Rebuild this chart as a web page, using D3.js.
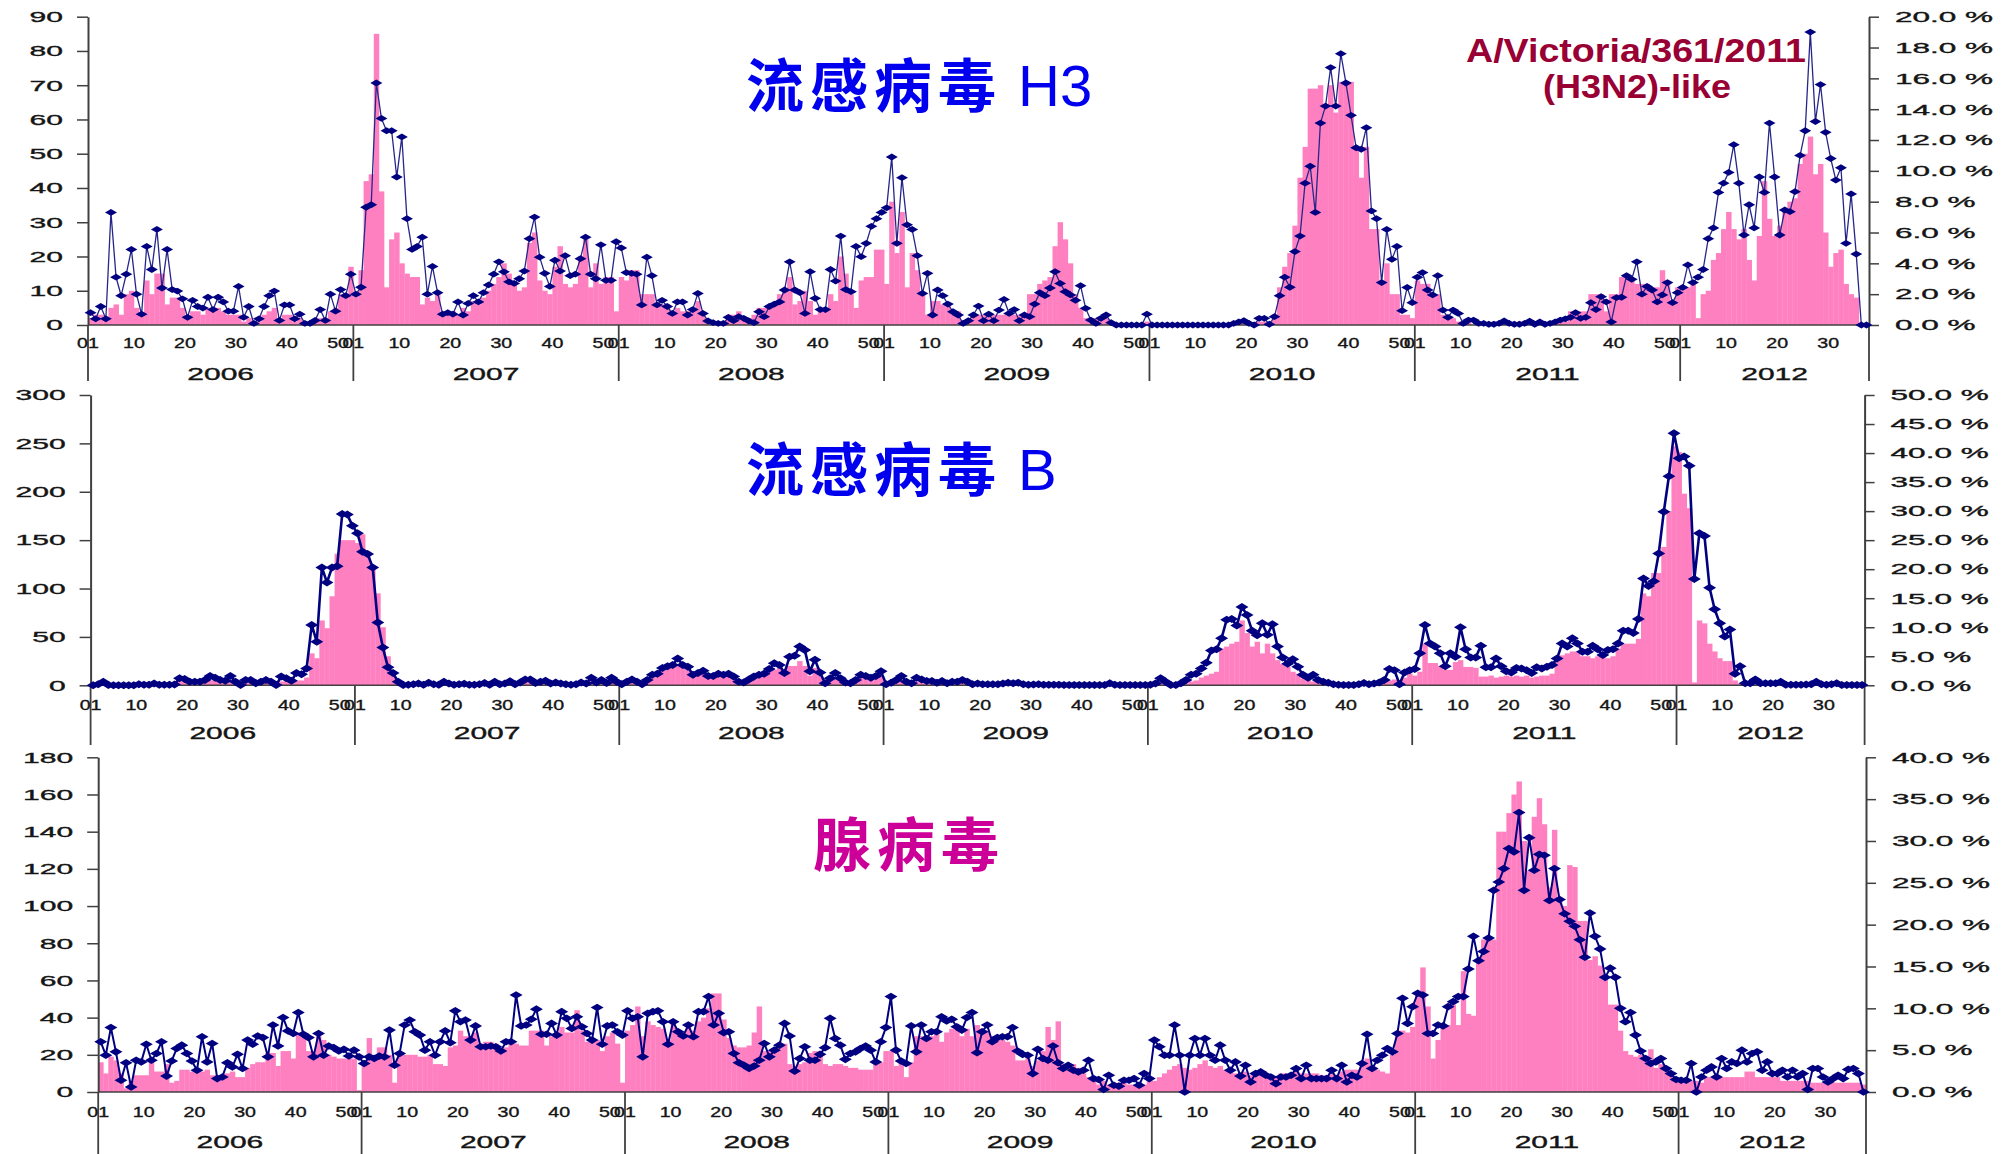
<!DOCTYPE html>
<html>
<head>
<meta charset="utf-8">
<script src="https://cdn.jsdelivr.net/npm/d3@7"></script>
<style>
  html, body { margin: 0; padding: 0; background: #fff; }
  svg { display: block; }
</style>
</head>
<body>
<svg id="chart" width="2011" height="1154"></svg>
<script>
// ---- categories ----
const years = ["2006", "2007", "2008", "2009", "2010", "2011", "2012"];
const weeksPerYear = [52, 52, 52, 52, 52, 52, 37];
const weekTickLabels = ["01", "10", "20", "30", "40", "50"];

// ---- influenza H3: weekly positive isolates (left axis) ----
const h3Count = [
  2,3,3,2,5,6,3,9,10,5,3,13,9,15,15,6,8,8,5,2,4,4,3,5,4,5,4,3,3,3,1,2,0,1,3,4,5,1,3,3,1,2,0,0,1,2,1,4,5,9,9,17,
  9,16,42,44,85,39,11,25,27,18,15,14,14,6,8,7,9,3,3,4,3,5,4,7,6,8,10,12,14,18,15,12,10,11,24,27,13,10,9,17,23,12,11,12,20,25,11,18,12,14,14,4,
  14,13,16,16,9,9,9,6,6,6,4,5,4,4,4,7,3,1,1,1,1,3,3,4,2,2,3,5,5,5,6,9,10,14,6,7,10,7,3,4,4,9,7,20,15,9,5,13,14,14,22,22,
  12,36,21,33,11,21,16,9,3,7,7,6,6,4,4,1,1,3,3,3,3,3,3,3,3,3,3,3,9,9,12,13,14,23,30,25,18,9,5,2,2,2,2,2,0,0,0,0,0,0,0,1,
  0,0,0,0,0,0,0,0,0,0,0,0,0,0,0,0,0,1,1,0,0,1,1,0,3,11,17,21,29,43,52,69,69,70,64,70,62,71,71,71,52,43,52,28,28,12,18,9,9,3,3,2,
  13,12,12,9,9,3,2,2,1,1,1,0,1,0,0,1,0,1,0,0,1,0,1,0,1,0,0,1,1,1,4,4,4,4,9,9,9,4,9,9,14,14,13,12,12,12,11,11,16,12,7,11,
  11,11,12,2,9,10,19,21,28,33,28,25,28,19,13,26,42,31,26,29,34,36,37,47,50,55,44,47,27,17,21,22,12,9,8,0,0
];
// ---- influenza H3: weekly positive rate, % (right axis) ----
const h3Pct = [
  0.8,0.4,1.2,0.4,7.3,3.1,1.9,3.3,4.9,2.0,0.7,5.1,3.6,6.2,2.4,4.9,2.3,2.2,1.7,0.5,1.6,1.2,1.1,1.8,1.0,1.8,1.5,0.9,0.9,2.5,0.5,1.2,0.1,0.4,1.2,1.9,2.2,0.3,1.3,1.3,0.4,0.7,0.1,0.1,0.3,1.0,0.3,2.0,0.9,2.3,1.9,3.3,
  2.0,2.45,7.64,7.8,15.7,13.4,12.6,12.6,9.6,12.2,6.9,4.9,5.1,5.7,2.0,3.8,2.1,0.7,0.8,0.7,1.5,0.65,1.4,1.9,1.5,2.1,2.6,3.3,4.1,3.45,2.8,2.7,3.0,3.5,5.6,7.0,4.4,3.35,2.5,4.2,3.5,4.5,3.2,3.3,4.3,5.7,3.3,3.0,5.2,2.9,2.9,5.4,
  5.0,3.4,3.35,3.3,1.3,4.4,3.2,1.3,1.6,1.2,0.75,1.5,1.5,0.65,1.0,2.05,0.75,0.26,0.15,0.1,0.1,0.5,0.28,0.54,0.43,0.26,0.15,0.86,0.54,1.2,1.36,1.5,2.27,4.1,2.27,2.1,0.75,3.46,1.73,1.0,1.0,3.6,2.85,5.77,2.3,2.16,5.1,4.43,5.3,6.4,6.9,7.3,
  7.6,10.9,5.3,9.56,6.5,6.2,4.5,2.05,3.35,0.65,2.27,1.9,1.36,0.86,0.65,0.1,0.28,0.65,1.23,0.28,0.7,0.28,0.97,1.66,0.75,1.0,0.28,0.65,0.54,1.36,2.1,1.9,2.4,3.46,2.7,2.16,1.95,1.6,2.55,1.08,0.32,0.1,0.43,0.65,0.15,0,0,0,0,0,0,0.7,
  0,0,0,0,0,0,0,0,0,0,0,0,0,0,0,0,0.1,0.2,0.28,0.1,0,0.43,0.43,0.05,0.54,1.9,3.1,2.45,4.76,5.77,9.2,10.3,7.3,13.1,14.2,16.7,14.2,17.6,15.7,13.6,11.5,11.4,12.8,7.4,6.9,2.75,6.2,4.26,5.1,0.93,2.44,1.45,
  3.1,3.4,2.27,1.95,3.2,0.97,0.5,0.97,0.75,0.1,0.32,0.32,0.1,0.1,0.05,0.05,0.1,0.26,0.1,0.05,0.05,0.1,0.25,0.05,0.2,0.05,0.1,0.2,0.32,0.4,0.5,0.8,0.43,0.5,1.45,1.0,1.84,1.5,0.2,1.77,1.8,3.2,2.96,4.1,2.0,2.5,2.27,1.5,1.95,2.75,1.45,2.1,
  2.44,3.9,2.75,3.1,3.6,5.6,6.3,8.6,9.2,9.9,11.7,9.2,5.84,7.8,6.3,9.6,8.6,13.1,9.6,5.84,7.46,7.35,8.65,11.0,12.6,19.0,13.2,15.6,12.5,10.8,9.4,10.2,5.3,8.5,4.6,0,0
];

// ---- influenza B ----
const bCount = [
  0,1,2,0,0,0,0,0,0,1,0,0,1,0,0,0,1,4,4,3,3,3,4,5,5,4,4,5,3,1,3,3,2,3,4,3,1,4,4,3,5,5,8,33,28,67,59,92,136,150,150,150,
  147,156,135,120,95,60,30,14,5,2,1,1,2,1,2,1,1,3,2,1,1,2,1,1,1,2,1,3,1,2,3,1,2,4,5,2,3,4,2,3,2,1,1,1,3,2,6,3,5,3,6,3,
  1,2,3,2,1,4,8,10,15,18,20,22,18,16,10,11,12,9,9,10,9,10,7,3,3,6,12,12,12,14,16,18,10,20,20,25,20,10,18,10,2,5,8,5,2,2,4,8,7,6,7,9,
  2,3,4,5,2,2,4,3,2,2,2,2,1,2,2,3,2,1,1,1,1,1,1,1,2,1,2,1,0,1,1,0,0,0,0,0,0,0,0,0,0,0,0,0,1,0,0,0,0,0,0,0,
  0,1,2,1,0,0,1,2,4,5,8,10,12,14,38,40,43,45,67,54,40,45,33,43,33,26,22,19,14,12,7,6,4,3,2,1,1,0,0,0,0,1,1,1,1,1,3,5,6,1,8,12,
  10,14,43,23,23,20,16,16,24,26,19,19,18,9,9,10,8,9,10,9,10,9,10,8,9,10,10,12,28,31,33,35,35,30,30,28,30,30,28,30,38,43,43,43,48,95,92,116,116,143,180,247,
  241,198,183,3,67,64,43,35,28,25,25,5,2,1,1,2,1,1,1,1,2,0,0,0,0,1,1,2,1,0,1,1,0,0,0,0,0
];
const bPct = [
  0,0.2,0.6,0.05,0,0,0,0,0,0.2,0.1,0.1,0.3,0.1,0.1,0.1,0.15,1.2,1.1,0.6,0.6,0.6,0.9,1.6,1.3,0.9,0.8,1.6,0.6,0.05,0.9,0.9,0.35,0.6,0.9,0.6,0.05,1.5,1.2,0.8,2.1,1.9,2.9,10.4,7.5,20.3,17.7,20.3,20.5,29.5,29.4,27.5,
  26.2,23.0,22.6,20.3,10.8,6.5,3.1,2.1,0.6,0.05,0.1,0.2,0.3,0.1,0.45,0.2,0.1,0.6,0.3,0.1,0.2,0.25,0.1,0.1,0.2,0.4,0.1,0.6,0.2,0.3,0.7,0.2,0.5,1.0,1.0,0.4,0.6,0.8,0.3,0.5,0.3,0.2,0.1,0.2,0.5,0.3,1.3,0.5,0.9,0.4,1.3,0.6,
  0.2,0.6,1.0,0.6,0.2,0.9,1.8,2.0,3.0,3.3,3.5,4.6,3.5,3.2,1.8,2.1,2.5,1.6,1.6,2.0,1.8,2.0,1.5,0.6,0.5,1.0,1.5,1.8,2.0,2.8,3.8,3.5,2.1,4.9,5.1,6.7,6.1,2.4,4.4,2.2,0.35,1.2,2.1,1.2,0.5,0.35,0.9,1.8,1.6,1.3,1.6,2.4,
  0.2,0.45,0.9,1.6,0.6,0.35,1.3,1.0,0.75,0.75,0.45,0.75,0.35,0.6,0.6,0.9,0.6,0.2,0.3,0.2,0.2,0.2,0.2,0.3,0.45,0.35,0.45,0.2,0.1,0.15,0.2,0.1,0.1,0.1,0.1,0.05,0.05,0.05,0.05,0.05,0.05,0.05,0.05,0.05,0.35,0.1,0.05,0.05,0.05,0.05,0.05,0.05,
  0.1,0.3,1.2,0.6,0.05,0.05,0.35,0.9,1.8,2.0,2.9,3.9,6.0,6.2,8.1,11.3,11.4,10.3,13.5,12.1,9.4,8.6,10.7,8.7,10.5,6.7,4.8,3.7,4.5,3.2,1.8,1.3,1.8,0.9,0.6,0.45,0.2,0.1,0.05,0.05,0.05,0.2,0.4,0.2,0.3,0.5,0.9,2.8,2.6,0.2,2.2,2.6,
  2.8,5.5,10.4,7.2,6.7,5.5,3.3,5.5,4.9,10.0,6.2,4.8,4.8,6.8,3.1,3.1,4.6,3.3,2.4,2.2,3.0,2.9,2.6,2.1,3.1,2.9,3.2,3.5,4.6,7.2,6.7,8.1,7.2,5.8,5.8,6.8,6.2,5.2,6.1,6.2,7.2,9.4,9.4,9.0,11.4,18.4,17.1,17.9,22.7,29.9,36.0,43.4,
  39.1,39.4,37.8,18.3,26.2,25.7,16.8,13.1,10.7,8.4,9.6,2.0,3.3,0.35,0.35,1.0,0.35,0.35,0.35,0.35,0.6,0.1,0.1,0.1,0.1,0.15,0.2,0.6,0.2,0.1,0.2,0.35,0.05,0.05,0.05,0.05,0.05
];

// ---- adenovirus ----
const adenoCount = [
  16,10,19,17,10,2,6,9,9,9,16,11,11,15,5,6,12,12,11,11,11,12,9,9,9,10,11,8,8,13,15,16,16,21,21,14,22,22,18,32,30,22,22,30,28,20,19,18,18,18,18,1,
  15,29,20,24,24,20,5,20,20,20,20,19,19,20,15,15,14,24,25,33,30,30,32,26,27,27,26,22,24,26,26,25,25,33,33,33,25,30,32,35,32,32,44,33,27,27,28,22,30,32,26,5,
  33,36,46,30,38,36,35,34,28,38,32,30,36,33,38,40,45,53,53,39,29,25,24,24,25,32,46,22,22,23,26,26,15,14,15,16,21,22,20,15,14,15,15,14,13,13,12,12,12,16,16,22,
  22,14,16,8,16,30,30,30,30,32,27,32,34,35,30,34,30,36,34,33,30,28,28,27,25,17,17,18,14,17,22,35,28,38,15,15,15,13,10,8,6,4,6,4,4,5,5,4,4,5,4,6,
  6,8,10,12,14,15,13,12,13,15,17,14,13,14,12,12,10,10,11,9,9,10,9,9,8,10,10,10,11,10,10,10,10,9,9,10,9,11,12,12,12,15,18,13,12,11,10,20,30,33,32,35,
  53,67,46,18,28,36,36,47,36,65,42,41,72,82,82,82,140,140,150,160,167,135,119,148,158,144,110,141,105,100,122,121,92,92,71,73,68,63,47,47,33,22,20,19,20,19,23,13,15,13,9,8,
  6,6,6,6,5,8,8,8,8,8,8,8,8,11,11,8,8,8,8,8,6,6,6,6,6,6,5,5,5,5,5,5,5,5,5,5,4
];
const adenoPct = [
  6.0,4.4,7.7,4.8,1.4,3.5,0.6,3.8,3.6,5.7,3.8,4.6,6.0,1.9,3.7,5.2,5.6,4.6,3.7,2.6,6.6,3.6,5.8,1.6,1.8,3.5,3.0,4.5,2.8,6.2,5.7,6.7,6.5,4.2,8.0,5.5,8.9,7.3,7.0,9.5,6.9,6.5,4.2,7.0,4.4,5.5,5.3,4.9,5.1,4.3,5.0,4.2,
  3.4,4.2,4.0,4.3,4.2,7.4,3.2,4.6,8.0,8.6,7.2,6.8,5.0,6.0,4.4,6.0,7.3,5.9,9.7,8.4,8.6,6.2,7.9,5.4,5.4,5.5,5.4,4.9,6.0,6.0,11.6,7.9,8.0,8.7,9.9,6.9,6.9,8.2,6.8,9.6,8.8,7.6,9.0,7.8,7.0,6.2,10.1,5.7,7.9,8.0,7.2,6.8,
  9.7,8.8,9.0,4.2,9.4,9.6,9.7,8.4,5.7,8.4,7.2,6.7,8.0,6.6,9.6,9.6,11.4,8.0,9.4,7.1,7.2,4.6,3.5,3.2,2.8,3.1,3.8,5.8,4.2,5.0,5.6,8.2,6.7,2.5,4.0,5.4,3.8,3.8,4.5,5.3,8.8,6.4,5.6,3.9,4.6,4.8,5.2,5.5,5.0,3.6,6.0,7.7,
  11.4,5.0,3.7,3.4,7.9,4.8,8.0,6.4,7.2,7.2,9.0,8.5,8.7,7.8,7.4,8.9,9.5,4.7,7.2,8.0,6.0,6.5,6.6,6.6,7.7,4.9,4.5,4.4,2.2,5.1,4.0,3.8,5.5,3.5,2.8,3.2,2.6,2.4,2.6,3.8,1.6,1.5,0.3,2.0,0.8,0.7,1.4,1.4,1.6,0.8,2.2,1.6,
  6.2,5.4,4.4,4.4,8.0,4.4,0,4.4,6.4,4.4,6.4,4.4,3.8,5.6,3.8,2.6,3.6,1.9,3.2,1.2,2.2,2.4,2.0,1.8,1.0,1.8,1.8,2.0,2.8,1.6,3.2,1.6,1.6,1.6,1.6,2.6,1.6,3.2,1.2,2.0,1.8,3.4,6.9,2.8,3.8,4.4,5.2,4.8,7.0,11.2,8.2,10.2,
  11.8,11.6,7.0,7.0,8.0,7.9,10.2,10.8,11.4,11.4,14.7,18.6,15.7,16.8,18.4,24.1,25.1,26.7,29.1,28.7,33.4,24.1,30.4,26.5,28.4,28.3,22.9,26.7,23.0,21.3,20.4,19.8,18.2,16.1,21.4,18.6,17.1,13.7,14.8,13.7,10.0,8.4,9.5,6.8,4.9,4.0,3.4,3.6,4.0,2.8,2.2,1.5,
  1.4,1.4,3.4,0,1.8,2.6,3.0,1.8,4.0,2.8,3.6,3.4,5.0,3.6,4.6,4.8,2.6,3.6,2.2,2.2,2.6,1.8,2.6,1.8,2.2,0.3,2.8,2.8,1.8,1.2,1.6,2.0,1.6,2.7,2.8,2.2,0
];

// ---- weekly category list ----
const weeks = [];
years.forEach((y, i) => {
  for (let w = 1; w <= weeksPerYear[i]; w++) weeks.push({ year: y, week: w, key: y + "-" + w });
});

// ---- panel layout ----
const panels = [
  { name: "流感病毒", tag: "H3", color: "#0000ee", counts: h3Count, pct: h3Pct,
    countMax: 90, countStep: 10, pctMax: 20, pctStep: 2,
    left: 88, right: 1869, top: 16.7, base: 325, weekY: 348, yearY: 380, sepBottom: 381,
    titleY: 107, lineWidth: 1.3, lineColor: "#26268a", markA: 6, markB: 3.4 },
  { name: "流感病毒", tag: "B", color: "#0000ee", counts: bCount, pct: bPct,
    countMax: 300, countStep: 50, pctMax: 50, pctStep: 5,
    left: 90.6, right: 1864.6, top: 395, base: 685.3, weekY: 710, yearY: 739, sepBottom: 745,
    titleY: 491, lineWidth: 2.6, lineColor: "#000080", markA: 6.5, markB: 4 },
  { name: "腺病毒", tag: "", color: "#cc0099", counts: adenoCount, pct: adenoPct,
    countMax: 180, countStep: 20, pctMax: 40, pctStep: 5,
    left: 98.2, right: 1866, top: 757.3, base: 1092, weekY: 1117, yearY: 1148, sepBottom: 1154,
    titleX: 813, titleY: 866, lineWidth: 2, lineColor: "#000080", markA: 6.5, markB: 3.8 }
];

const svg = d3.select("#chart");
const axisColor = "#404040";
const labelFont = "'Liberation Sans', Arial, sans-serif";
const labelInk = "#151515";

// widen text horizontally to the chart's wide lettering
function stretch(sel, k) {
  sel.each(function () {
    const len = this.getComputedTextLength();
    if (len > 0) {
      this.setAttribute("textLength", (len * k).toFixed(1));
      this.setAttribute("lengthAdjust", "spacingAndGlyphs");
    }
  });
}

// common look of the axis lettering
function inkLabels(sel, size) {
  sel.attr("font-family", labelFont).attr("font-size", size)
    .attr("fill", labelInk).attr("stroke", labelInk).attr("stroke-width", 0.35);
}

panels.forEach(drawPanel);

function drawPanel(p) {
  const g = svg.append("g");
  const x = d3.scaleBand().domain(weeks.map(d => d.key)).range([p.left, p.right]).padding(0);
  const yC = d3.scaleLinear().domain([0, p.countMax]).range([p.base, p.top]);
  const yP = d3.scaleLinear().domain([0, p.pctMax]).range([p.base, p.top]);
  const bw = x.bandwidth();

  // bars: isolate counts
  g.append("g").selectAll("rect").data(weeks).join("rect")
    .attr("x", d => x(d.key))
    .attr("width", bw + 0.35)
    .attr("y", (d, i) => yC(p.counts[i]))
    .attr("height", (d, i) => p.base - yC(p.counts[i]))
    .attr("fill", "#ff80c0");

  // baseline
  g.append("line").attr("x1", p.left).attr("x2", p.right)
    .attr("y1", p.base).attr("y2", p.base)
    .attr("stroke", axisColor).attr("stroke-width", 1.6);

  // year separators (including both outer edges)
  const yearStarts = years.map(y => x(y + "-1"));
  const seps = yearStarts.concat([p.right]);
  g.append("g").selectAll("line").data(seps).join("line")
    .attr("x1", d => d).attr("x2", d => d)
    .attr("y1", p.base).attr("y2", p.sepBottom)
    .attr("stroke", axisColor).attr("stroke-width", 1.8);

  // left axis
  const leftAxis = d3.axisLeft(yC)
    .tickValues(d3.range(0, p.countMax + 0.001, p.countStep))
    .tickSize(11).tickSizeOuter(0).tickPadding(14);
  const la = g.append("g").attr("transform", `translate(${p.left},0)`).call(leftAxis);
  la.select(".domain").attr("stroke", axisColor).attr("stroke-width", 2);
  la.selectAll(".tick line").attr("stroke", axisColor).attr("stroke-width", 1.5);
  la.selectAll("text").call(inkLabels, 15).call(stretch, 2.0);

  // right axis
  const rightAxis = d3.axisRight(yP)
    .tickValues(d3.range(0, p.pctMax + 0.001, p.pctStep))
    .tickFormat(d => d.toFixed(1) + " %")
    .tickSize(10).tickSizeOuter(0).tickPadding(16);
  const ra = g.append("g").attr("transform", `translate(${p.right},0)`).call(rightAxis);
  ra.select(".domain").attr("stroke", axisColor).attr("stroke-width", 2);
  ra.selectAll(".tick line").attr("stroke", axisColor).attr("stroke-width", 1.5);
  ra.selectAll("text").call(inkLabels, 15).call(stretch, 2.1);

  // week labels
  const wl = [];
  years.forEach((y, i) => {
    weekTickLabels.forEach(t => {
      const w = +t;
      if (w <= weeksPerYear[i]) wl.push({ text: t, x: x(y + "-" + w) });
    });
  });
  g.append("g").selectAll("text").data(wl).join("text")
    .attr("x", d => d.x).attr("y", p.weekY)
    .attr("text-anchor", "middle")
    .text(d => d.text)
    .call(inkLabels, 14)
    .call(stretch, 1.4);

  // year labels
  g.append("g").selectAll("text").data(years).join("text")
    .attr("x", (d, i) => (seps[i] + seps[i + 1]) / 2).attr("y", p.yearY)
    .attr("text-anchor", "middle")
    .text(d => d)
    .call(inkLabels, 16)
    .call(stretch, 1.87);

  // positive-rate line
  const pts = weeks.map((d, i) => [x(d.key) + bw / 2, yP(p.pct[i])]);
  g.append("path").attr("d", d3.line()(pts))
    .attr("fill", "none").attr("stroke", p.lineColor)
    .attr("stroke-width", p.lineWidth).attr("stroke-linejoin", "round");

  // diamond markers
  const a = p.markA, b = p.markB;
  g.append("g").selectAll("path").data(pts).join("path")
    .attr("d", d => `M${d[0] - a},${d[1]}L${d[0]},${d[1] - b}L${d[0] + a},${d[1]}L${d[0]},${d[1] + b}Z`)
    .attr("fill", "#000080");

  // title
  const tx = p.titleX || 746;
  g.append("text").attr("x", tx).attr("y", p.titleY)
    .attr("font-family", "'Noto Sans CJK SC', 'Noto Sans CJK TC', sans-serif")
    .attr("font-weight", 700).attr("font-size", 58).attr("letter-spacing", 6)
    .attr("fill", p.color).text(p.name);
  if (p.tag) {
    g.append("text").attr("x", 1018).attr("y", p.titleY - 1)
      .attr("font-family", labelFont).attr("font-size", 58)
      .attr("fill", p.color).text(p.tag);
  }
}

// strain note in the H3 panel
const note = svg.append("g").attr("fill", "#990033")
  .attr("font-family", "'Liberation Sans Narrow', 'Liberation Sans', Arial, sans-serif")
  .attr("font-weight", 700).attr("text-anchor", "middle");
note.append("text").attr("x", 1636).attr("y", 62).attr("font-size", 33)
  .attr("textLength", 340).attr("lengthAdjust", "spacingAndGlyphs").text("A/Victoria/361/2011");
note.append("text").attr("x", 1637).attr("y", 98).attr("font-size", 33)
  .attr("textLength", 188).attr("lengthAdjust", "spacingAndGlyphs").text("(H3N2)-like");
</script>
</body>
</html>
